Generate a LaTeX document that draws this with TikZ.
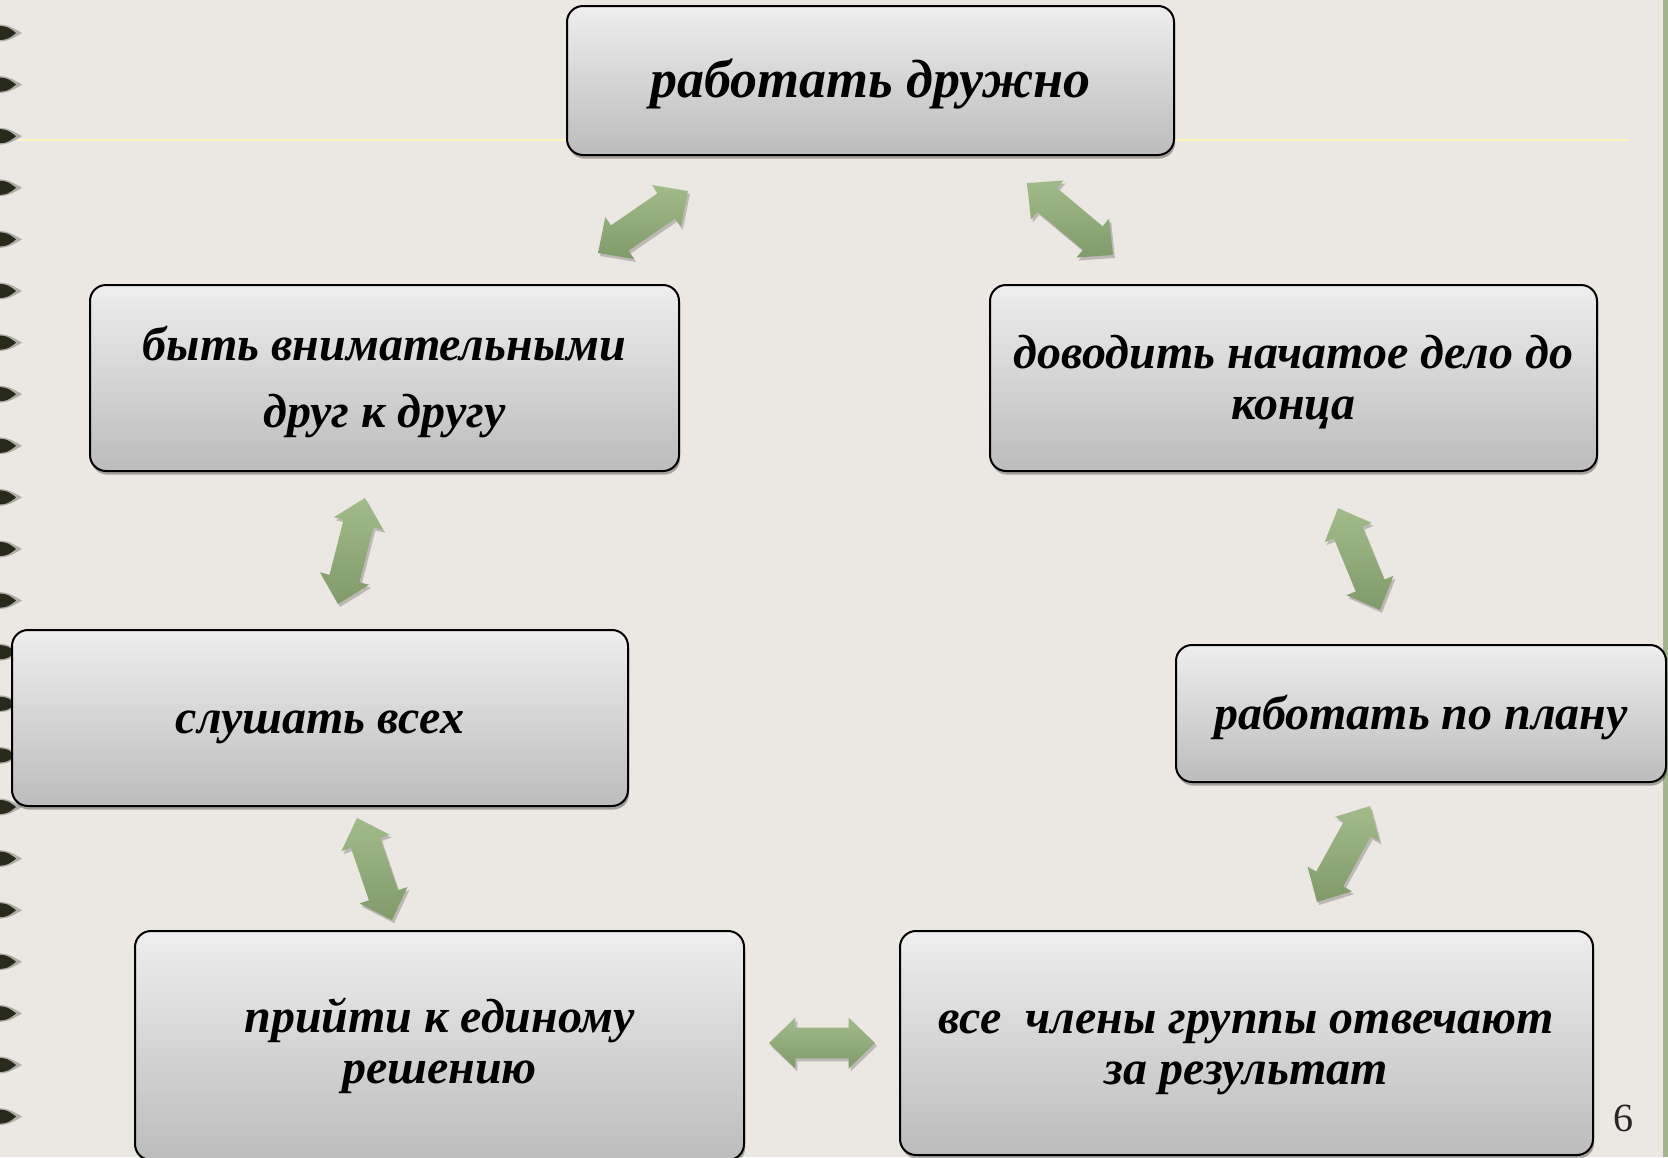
\documentclass[tikz,border=0pt]{standalone}
\usepackage{fontspec}
\setmainfont{Liberation Serif}
\usetikzlibrary{shapes.arrows,shadows}
\definecolor{bg}{RGB}{235,231,226}
\definecolor{pale}{RGB}{255,247,185}
\definecolor{sidebar}{RGB}{163,180,143}
\definecolor{dotc}{RGB}{40,42,28}
\definecolor{boxtop}{RGB}{238,238,238}
\definecolor{boxbot}{RGB}{188,188,188}
\definecolor{arlight}{RGB}{161,187,139}
\definecolor{ardark}{RGB}{128,154,106}
\newcommand\lnstrut{\rule[-0.2em]{0pt}{0.86em}}
\newcommand\firststrut{\rule[-0.2em]{0pt}{\dimexpr0.86em+5pt\relax}}
\tikzset{
  card/.style={rectangle, rounded corners=8pt, draw=black, line width=1pt,
    top color=boxtop, bottom color=boxbot, align=center,
    font=\fontsize{24}{25.5}\selectfont\bfseries\itshape, inner sep=0pt,
    drop shadow={shadow xshift=0.6pt, shadow yshift=-1.8pt, opacity=0.3, fill=black}},
  dblarrow/.style={double arrow, double arrow head extend=5pt, double arrow tip angle=88,
    minimum width=25pt, inner xsep=0pt, inner ysep=7.5pt, top color=arlight, bottom color=ardark,
    drop shadow={shadow xshift=1pt, shadow yshift=-1.5pt, opacity=0.2, fill=black}},
  pagenum/.style={font=\fontsize{20}{24}\selectfont, text=black!85, inner sep=0pt},
}
\begin{document}
\begin{tikzpicture}[x=0.5pt,y=-0.5pt]
\useasboundingbox (0,0) rectangle (1668,1157);
\fill[bg] (0,0) rectangle (1668,1157);
\draw[pale, line width=1.4pt] (18,140) -- (1629,140);
\fill[sidebar] (1663,0) rectangle (1668,1157);
\foreach \k in {0,...,21}{
  \pgfmathsetmacro\yy{33+51.6*\k}
  \fill[dotc, opacity=0.3] (-2,{\yy-8.5}) .. controls (9,{\yy-8.5}) and (15,{\yy-4}) .. (22,\yy) .. controls (15,{\yy+4}) and (9,{\yy+8.5}) .. (-2,{\yy+8.5}) -- cycle;
  \fill[dotc] (-2,{\yy-7}) .. controls (8,{\yy-7.5}) and (12,{\yy-3}) .. (16,\yy) .. controls (12,{\yy+3}) and (8,{\yy+7.5}) .. (-2,{\yy+7}) -- cycle;
}
\node[card, minimum width=303.5pt, minimum height=74.5pt, font=\fontsize{27}{30}\selectfont\bfseries\itshape] (n1) at (870.5,80.5) {\firststrut работать дружно};
\node[card, minimum width=294.5pt, minimum height=93pt] (n2) at (384.5,378) {\firststrut быть внимательными\\[8pt]\lnstrut друг к другу};
\node[card, minimum width=303.5pt, minimum height=93pt] (n3) at (1293.5,378) {\firststrut доводить начатое дело до\\\lnstrut конца};
\node[card, minimum width=308pt, minimum height=88pt] (n4) at (320,718) {\firststrut слушать всех};
\node[card, minimum width=245pt, minimum height=68.5pt] (n5) at (1421,713.5) {\firststrut работать по плану};
\node[card, minimum width=304.5pt, minimum height=114.5pt] (n6) at (439.5,1045.5) {\lnstrut прийти к единому\\\lnstrut решению};
\node[card, minimum width=346.5pt, minimum height=112pt] (n7) at (1246.5,1043) {\firststrut все\ \ члены группы отвечают\\\lnstrut за результат};
\node[dblarrow, minimum height=54.6pt, rotate=34.6] (a1) at (643,222) {};
\node[dblarrow, minimum height=56pt, rotate=-39.9] (a2) at (1070,219) {};
\node[dblarrow, minimum height=54.7pt, rotate=75.7] (a3) at (351.5,551) {};
\node[dblarrow, minimum height=55pt, rotate=112.4] (a4) at (1359,559) {};
\node[dblarrow, minimum height=54pt, rotate=108.9] (a5) at (374.5,869) {};
\node[dblarrow, minimum height=54.8pt, rotate=61.1] (a6) at (1343.5,854) {};
\node[dblarrow, minimum height=53pt, rotate=0] (a7) at (822,1043) {};
\node[pagenum] (pg) at (1623,1118) {6};
\end{tikzpicture}
\end{document}
